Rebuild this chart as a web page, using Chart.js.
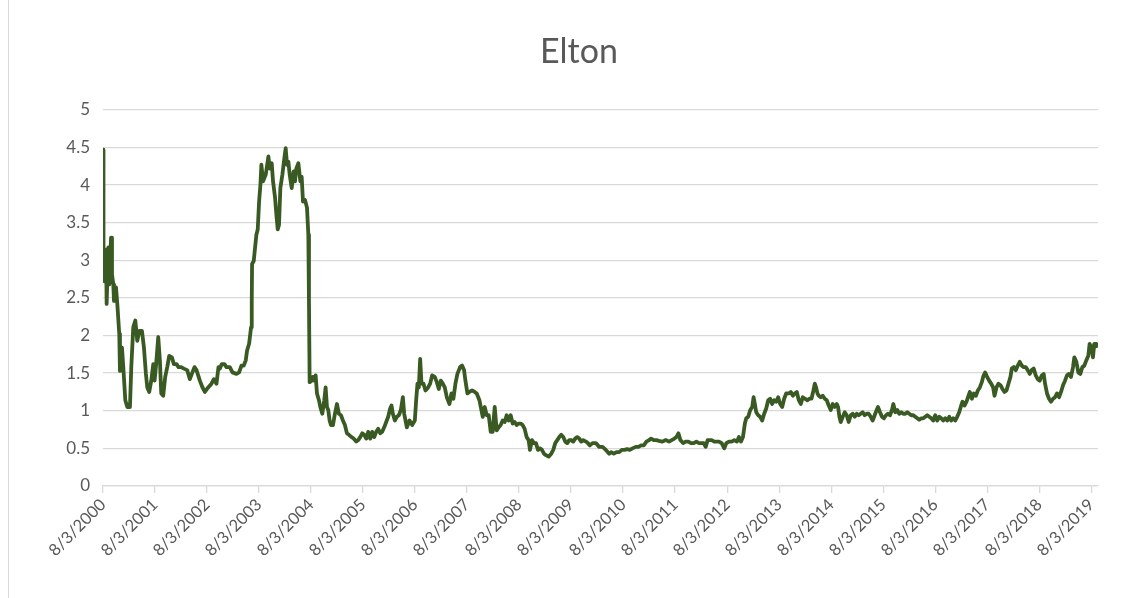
<!DOCTYPE html>
<html>
<head>
<meta charset="utf-8">
<title>Elton</title>
<script src="https://cdn.jsdelivr.net/npm/chart.js@4.4.1/dist/chart.umd.min.js"></script>
<style>
  html, body { margin: 0; padding: 0; background: #fff; }
  .frame { position: relative; width: 1140px; height: 598px; }
  .frame::before { content: ''; position: absolute; left: 8px; top: 0; bottom: 0; border-left: 1px solid #d9d9d9; }
  canvas { display: block; }
</style>
</head>
<body>
<div class="frame"><canvas id="chart" width="1140" height="598"></canvas></div>
<script>
// x axis: one label per year, anniversary of the first observation
const tickLabels = ['8/3/2000', '8/3/2001', '8/3/2002', '8/3/2003', '8/3/2004', '8/3/2005', '8/3/2006',
  '8/3/2007', '8/3/2008', '8/3/2009', '8/3/2010', '8/3/2011', '8/3/2012', '8/3/2013', '8/3/2014',
  '8/3/2015', '8/3/2016', '8/3/2017', '8/3/2018', '8/3/2019'];
const yTicks = [0, 0.5, 1, 1.5, 2, 2.5, 3, 3.5, 4, 4.5, 5];

// years elapsed since 8/3/2000
const years = [
  0.000, 0.006, 0.013, 0.032, 0.058, 0.070, 0.102, 0.122, 0.154, 0.173, 0.198, 0.211, 0.250, 0.275, 0.313, 0.326,
  0.365, 0.390, 0.429, 0.467, 0.518, 0.544, 0.582, 0.621, 0.659, 0.697, 0.749, 0.787, 0.825, 0.851, 0.889, 0.928,
  0.966, 0.992, 1.017, 1.062, 1.094, 1.120, 1.158, 1.196, 1.235, 1.273, 1.324, 1.363, 1.414, 1.452, 1.504, 1.555,
  1.619, 1.670, 1.708, 1.759, 1.798, 1.862, 1.913, 1.958, 2.022, 2.086, 2.131, 2.182, 2.220, 2.246, 2.284, 2.335,
  2.374, 2.438, 2.489, 2.566, 2.617, 2.662, 2.706, 2.745, 2.770, 2.809, 2.847, 2.860, 2.866, 2.898, 2.924, 2.949,
  2.975, 3.001, 3.026, 3.045, 3.077, 3.129, 3.180, 3.205, 3.244, 3.269, 3.308, 3.333, 3.359, 3.384, 3.410, 3.449,
  3.487, 3.512, 3.538, 3.564, 3.589, 3.628, 3.666, 3.692, 3.717, 3.756, 3.794, 3.820, 3.845, 3.884, 3.922, 3.948,
  3.960, 3.973, 4.012, 4.037, 4.063, 4.088, 4.114, 4.152, 4.178, 4.216, 4.254, 4.280, 4.306, 4.331, 4.357, 4.382,
  4.421, 4.459, 4.498, 4.536, 4.575, 4.613, 4.651, 4.690, 4.728, 4.779, 4.818, 4.869, 4.907, 4.946, 4.984, 5.022,
  5.061, 5.099, 5.138, 5.176, 5.214, 5.253, 5.291, 5.330, 5.368, 5.406, 5.445, 5.483, 5.521, 5.547, 5.573, 5.611,
  5.649, 5.688, 5.726, 5.765,
  5.791, 5.842, 5.893, 5.944, 5.995, 6.021, 6.046, 6.072, 6.098, 6.123, 6.162, 6.200, 6.251, 6.290, 6.328, 6.379,
  6.418, 6.456, 6.494, 6.533, 6.571, 6.610, 6.661, 6.699, 6.737, 6.776, 6.814, 6.865, 6.904, 6.942, 6.968, 7.006,
  7.045, 7.096, 7.147, 7.185, 7.237, 7.275, 7.301, 7.339, 7.377, 7.416, 7.454, 7.492, 7.531, 7.569, 7.608, 7.646,
  7.684, 7.723, 7.761, 7.799, 7.838, 7.876, 7.915, 7.953, 7.991, 8.030, 8.068, 8.107, 8.145, 8.183, 8.209, 8.247,
  8.286, 8.324, 8.363, 8.401, 8.439, 8.478, 8.516, 8.567, 8.618, 8.657, 8.695, 8.734, 8.772, 8.810, 8.849, 8.887,
  8.926, 8.964, 9.002, 9.041, 9.079, 9.118, 9.156, 9.194, 9.233, 9.284, 9.322, 9.361, 9.412, 9.476, 9.540, 9.604,
  9.668, 9.732, 9.770, 9.821, 9.872, 9.924, 9.975, 10.026, 10.077, 10.128, 10.180, 10.243, 10.295, 10.346, 10.397, 10.448,
  10.499, 10.538, 10.589, 10.640, 10.691, 10.755, 10.819, 10.883, 10.934, 10.986, 11.024, 11.063, 11.101, 11.152, 11.203, 11.254,
  11.306, 11.357, 11.408, 11.459, 11.510, 11.549, 11.587, 11.625, 11.664, 11.702, 11.753, 11.792, 11.843, 11.894, 11.945, 11.984,
  12.035, 12.086, 12.137, 12.188, 12.227, 12.265, 12.304,
  12.341, 12.367, 12.405, 12.444, 12.482, 12.508, 12.533, 12.559, 12.597, 12.635, 12.674, 12.712, 12.751, 12.789, 12.827, 12.866,
  12.904, 12.943, 12.981, 13.019, 13.058, 13.096, 13.135, 13.186, 13.224, 13.262, 13.301, 13.339, 13.378, 13.416, 13.454, 13.493,
  13.544, 13.582, 13.621, 13.659, 13.685, 13.710, 13.736, 13.762, 13.800, 13.838, 13.877, 13.915, 13.953, 13.992, 14.030, 14.069,
  14.107, 14.133, 14.158, 14.184, 14.222, 14.261, 14.299, 14.337, 14.376, 14.414, 14.453, 14.491, 14.529, 14.568, 14.606, 14.644,
  14.683, 14.721, 14.760, 14.798, 14.836, 14.875, 14.900, 14.939, 14.977, 15.015, 15.054, 15.092, 15.131, 15.169, 15.195, 15.233,
  15.271, 15.310, 15.348, 15.387, 15.425, 15.463, 15.502, 15.540, 15.579, 15.617, 15.655, 15.694, 15.732, 15.770, 15.809, 15.847,
  15.886, 15.924, 15.962, 16.001, 16.039, 16.078, 16.116, 16.154, 16.193, 16.231, 16.270, 16.308, 16.346, 16.385, 16.423, 16.461,
  16.500, 16.525, 16.564, 16.602, 16.641, 16.666, 16.705, 16.743, 16.781, 16.820, 16.858, 16.896, 16.922, 16.961, 16.999, 17.037,
  17.076, 17.114, 17.140, 17.178, 17.216, 17.255, 17.293, 17.332, 17.370, 17.408, 17.447, 17.472, 17.511, 17.549, 17.587, 17.626,
  17.664, 17.703, 17.741, 17.779, 17.818, 17.856, 17.894, 17.933, 17.971, 18.010, 18.048, 18.086, 18.112, 18.150, 18.189, 18.227,
  18.266, 18.304, 18.342, 18.381, 18.419, 18.458, 18.496, 18.534, 18.573, 18.611, 18.650, 18.675, 18.714, 18.752, 18.790, 18.829,
  18.867, 18.905, 18.944, 18.969, 19.008, 19.033, 19.059, 19.097, 19.123
];

const elton = [
  4.47, 3.72, 2.95, 2.72, 3.14, 2.42, 3.17, 2.68, 3.30, 2.81, 2.68, 2.46, 2.64, 2.42, 2.02, 1.53,
  1.84, 1.58, 1.14, 1.05, 1.05, 1.58, 2.11, 2.20, 1.93, 2.06, 2.06, 1.84, 1.49, 1.31, 1.25, 1.40,
  1.62, 1.40, 1.58, 1.98, 1.67, 1.23, 1.20, 1.45, 1.58, 1.73, 1.71, 1.62, 1.62, 1.58, 1.58, 1.56,
  1.54, 1.42, 1.49, 1.58, 1.54, 1.40, 1.31, 1.25, 1.31, 1.36, 1.42, 1.36, 1.58, 1.56, 1.62, 1.62,
  1.58, 1.58, 1.51, 1.49, 1.51, 1.60, 1.60, 1.67, 1.80, 1.89, 2.11, 2.46, 2.95, 2.99, 3.17, 3.34,
  3.41, 3.78, 4.00, 4.27, 4.05, 4.14, 4.38, 4.22, 4.29, 4.05, 3.83, 3.61, 3.41, 3.47, 3.96, 4.14,
  4.36, 4.49, 4.27, 4.31, 4.14, 3.96, 4.18, 4.05, 4.22, 4.29, 4.05, 4.11, 3.78, 3.80, 3.70, 3.34,
  2.46, 1.38, 1.40, 1.45, 1.40, 1.47, 1.23, 1.14, 1.05, 0.96, 1.14, 1.31, 1.05, 1.01, 0.87, 0.81,
  0.81, 0.96, 1.09, 0.96, 0.94, 0.87, 0.81, 0.70, 0.68, 0.65, 0.63, 0.59, 0.61, 0.65, 0.70, 0.68,
  0.63, 0.72, 0.63, 0.72, 0.65, 0.72, 0.76, 0.70, 0.72, 0.78, 0.85, 0.92, 1.03, 1.07, 0.96, 0.87,
  0.92, 0.94, 1.01, 1.18,
  0.96, 0.78, 0.87, 0.81, 0.87, 1.14, 1.36, 1.31, 1.69, 1.36, 1.36, 1.27, 1.31, 1.36, 1.47, 1.45,
  1.38, 1.29, 1.40, 1.36, 1.31, 1.18, 1.09, 1.23, 1.16, 1.36, 1.49, 1.58, 1.60, 1.54, 1.40, 1.23,
  1.25, 1.27, 1.25, 1.23, 1.14, 1.01, 0.92, 1.05, 0.94, 0.94, 0.72, 0.72, 1.05, 0.74, 0.78, 0.81,
  0.87, 0.85, 0.94, 0.87, 0.94, 0.83, 0.85, 0.81, 0.83, 0.83, 0.81, 0.76, 0.65, 0.61, 0.48, 0.61,
  0.57, 0.57, 0.48, 0.50, 0.48, 0.43, 0.41, 0.39, 0.43, 0.48, 0.57, 0.61, 0.65, 0.68, 0.65, 0.59,
  0.57, 0.61, 0.61, 0.59, 0.63, 0.65, 0.63, 0.59, 0.61, 0.59, 0.57, 0.54, 0.57, 0.57, 0.52, 0.52,
  0.48, 0.43, 0.45, 0.43, 0.45, 0.45, 0.48, 0.48, 0.49, 0.48, 0.50, 0.52, 0.52, 0.54, 0.54, 0.59,
  0.61, 0.63, 0.61, 0.61, 0.60, 0.59, 0.61, 0.59, 0.61, 0.63, 0.65, 0.70, 0.61, 0.57, 0.59, 0.59,
  0.57, 0.57, 0.59, 0.57, 0.57, 0.57, 0.52, 0.61, 0.61, 0.61, 0.59, 0.59, 0.59, 0.57, 0.50, 0.57,
  0.59, 0.59, 0.61, 0.59, 0.65, 0.59, 0.65,
  0.83, 0.90, 0.92, 1.01, 1.05, 1.18, 1.09, 0.98, 0.94, 0.92, 0.87, 0.96, 1.03, 1.14, 1.16, 1.09,
  1.14, 1.12, 1.18, 1.09, 1.05, 1.16, 1.23, 1.23, 1.25, 1.20, 1.23, 1.25, 1.14, 1.09, 1.18, 1.16,
  1.14, 1.16, 1.16, 1.27, 1.36, 1.31, 1.23, 1.20, 1.18, 1.20, 1.16, 1.14, 1.07, 1.01, 1.09, 1.05,
  1.09, 1.05, 0.92, 0.85, 0.92, 0.98, 0.94, 0.85, 0.94, 0.96, 0.92, 0.96, 0.94, 0.96, 0.98, 0.94,
  0.96, 0.96, 0.92, 0.87, 0.94, 1.01, 1.05, 0.98, 0.92, 0.90, 0.94, 0.96, 0.94, 1.01, 1.09, 0.98,
  1.01, 0.96, 0.98, 0.96, 0.96, 0.98, 0.96, 0.94, 0.94, 0.92, 0.90, 0.88, 0.90, 0.90, 0.92, 0.94,
  0.92, 0.90, 0.87, 0.94, 0.87, 0.92, 0.90, 0.87, 0.90, 0.87, 0.92, 0.87, 0.90, 0.87, 0.92, 0.98,
  1.07, 1.12, 1.07, 1.12, 1.20, 1.25, 1.16, 1.23, 1.20, 1.27, 1.31, 1.38, 1.45, 1.51, 1.45, 1.40,
  1.36, 1.31, 1.20, 1.31, 1.36, 1.34, 1.29, 1.25, 1.27, 1.36, 1.45, 1.56, 1.58, 1.54, 1.60, 1.65,
  1.60, 1.58, 1.58, 1.54, 1.49, 1.54, 1.56, 1.47, 1.42, 1.40, 1.47, 1.49, 1.36, 1.23, 1.16, 1.12,
  1.16, 1.18, 1.23, 1.18, 1.25, 1.34, 1.40, 1.47, 1.49, 1.45, 1.58, 1.71, 1.65, 1.51, 1.49, 1.58,
  1.60, 1.67, 1.73, 1.89, 1.84, 1.71, 1.89, 1.89, 1.84
];

const textColor = '#595959';
const gridColor = '#d9d9d9';
const fontFamily = 'Lato, "Open Sans", sans-serif';

new Chart(document.getElementById('chart'), {
  type: 'line',
  data: {
    datasets: [{
      label: 'Elton',
      data: years.map((t, i) => ({ x: t, y: elton[i] })),
      borderColor: '#3a5a24',
      borderWidth: 3.8,
      borderJoinStyle: 'round',
      pointRadius: 0,
      tension: 0,
      fill: false
    }]
  },
  options: {
    responsive: false,
    animation: false,
    devicePixelRatio: 1,
    // left/right padding chosen so the title sits centred over the plot + axis block
    layout: { padding: { left: 60, right: 42, top: 0, bottom: 0 } },
    plugins: {
      legend: { display: false },
      tooltip: { enabled: false },
      title: {
        display: true,
        text: 'Elton',
        color: textColor,
        font: { family: fontFamily, size: 34, weight: 'normal' },
        padding: { top: 32, bottom: 37 }
      }
    },
    scales: {
      x: {
        type: 'linear',
        min: 0,
        max: 19.13,
        afterBuildTicks: s => { s.ticks = tickLabels.map((_, i) => ({ value: i })); },
        afterFit: s => { s.height = 112; },
        grid: { drawOnChartArea: false, drawTicks: true, tickLength: 7, color: gridColor, lineWidth: 1.3 },
        border: { color: gridColor, width: 1.3 },
        ticks: {
          autoSkip: false,
          minRotation: 45,
          maxRotation: 45,
          padding: 2,
          color: textColor,
          font: { family: fontFamily, size: 16.5 },
          callback: v => tickLabels[v]
        }
      },
      y: {
        min: 0,
        max: 5,
        afterBuildTicks: s => { s.ticks = yTicks.map(v => ({ value: v })); },
        afterFit: s => { s.width = 43; },
        grid: { color: gridColor, lineWidth: 1.3, drawTicks: false },
        border: { display: false },
        ticks: {
          padding: 13,
          color: textColor,
          font: { family: fontFamily, size: 17 },
          callback: v => String(v)
        }
      }
    }
  }
});
</script>
</body>
</html>
